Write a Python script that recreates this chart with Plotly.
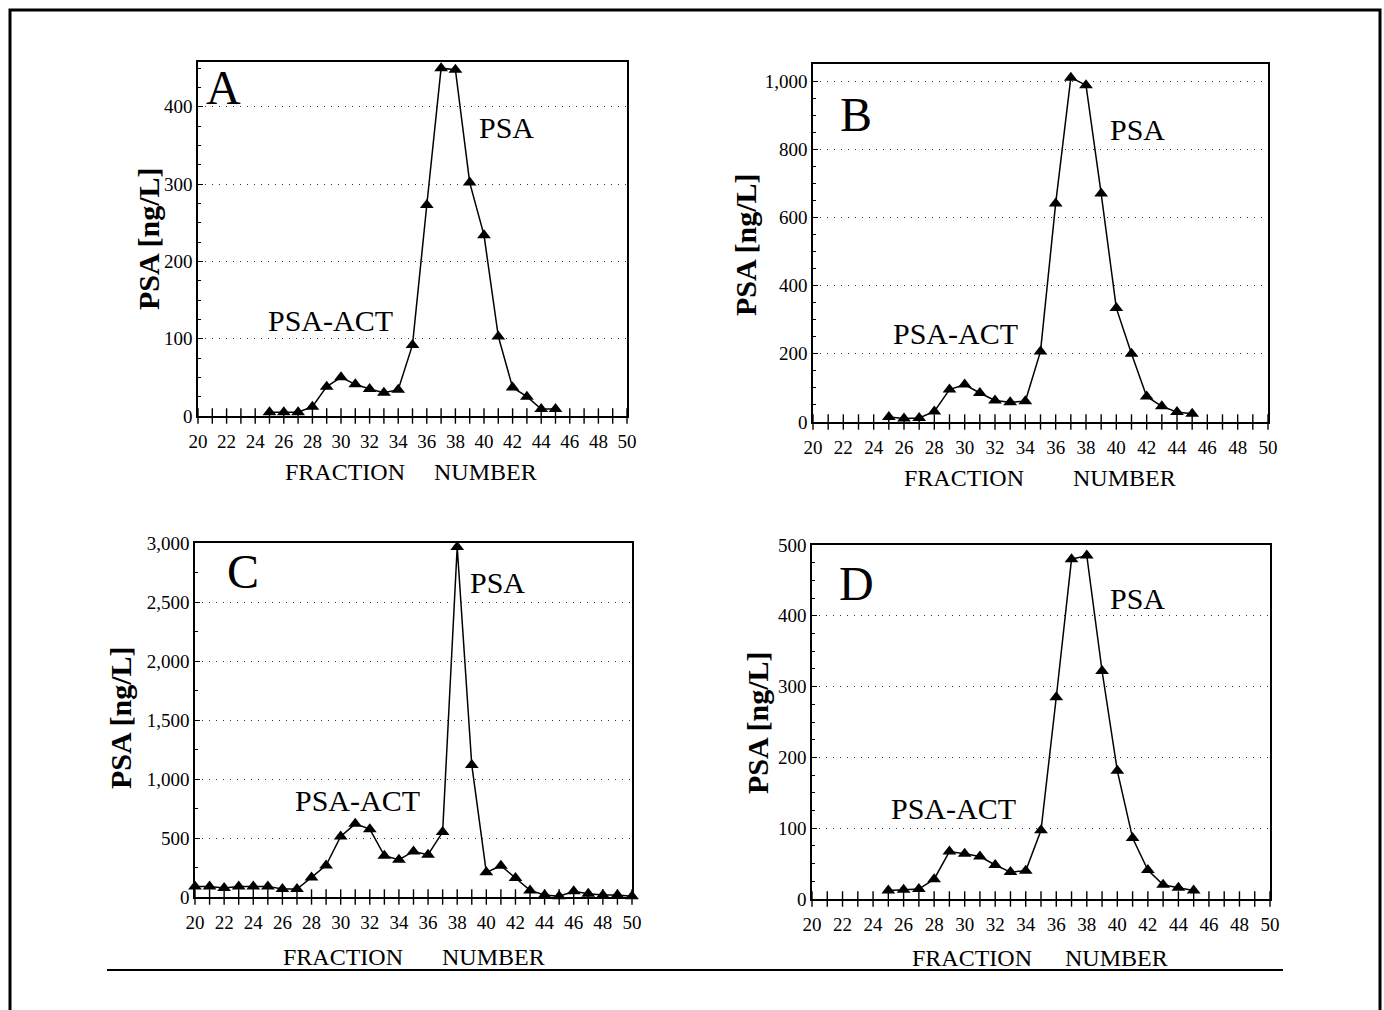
import plotly.graph_objects as go

# ---------------- data ----------------
fractions_A = list(range(25, 46))
psa_A = [5, 5, 5, 12, 38, 50, 41, 35, 30, 34, 92, 273, 450, 448, 302, 234, 103, 37, 25, 9, 9]

fractions_B = list(range(25, 46))
psa_B = [15, 10, 12, 31, 95, 110, 85, 63, 58, 61, 207, 641, 1010, 988, 670, 334, 200, 75, 46, 29, 24]

fractions_C = list(range(20, 51))
psa_C = [90, 90, 76, 90, 90, 90, 68, 68, 166, 268, 513, 620, 575, 350, 316, 386, 358, 550,
         2966, 1119, 209, 265, 161, 56, 17, 6, 48, 28, 17, 17, 6]

fractions_D = list(range(25, 46))
psa_D = [12, 13, 14, 28, 67, 64, 60, 48, 38, 40, 97, 285, 480, 485, 322, 181, 86, 41, 20, 16, 12]

x_tick_labels = list(range(20, 51, 2))
x_tick_marks = list(range(20, 51))
panel_letters = ["A", "B", "C", "D"]

W, H = 1384, 1010
FONT = "Liberation Serif"


def X(px):
    return px / W


def Y(py):
    return 1 - py / H


# panel boxes in pixels: (left, right, top, bottom), y max, major dtick, minor dtick
panels = [
    dict(x=fractions_A, y=psa_A, box=(198, 627, 62, 416), ymax=458, dt=100, mdt=25,
         letter=(223, 88), psa=(507, 127), act=(330, 320), ytitle=(148, 239),
         frac=(345, 472), num=(485, 472)),
    dict(x=fractions_B, y=psa_B, box=(813, 1268, 64, 422), ymax=1050, dt=200, mdt=50,
         letter=(856, 115), psa=(1137, 129), act=(955, 333), ytitle=(745, 245),
         frac=(964, 478), num=(1124, 478)),
    dict(x=fractions_C, y=psa_C, box=(195, 632, 543, 897), ymax=3000, dt=500, mdt=250,
         letter=(243, 571), psa=(497, 582), act=(357, 800), ytitle=(120, 718),
         frac=(343, 957), num=(493, 957)),
    dict(x=fractions_D, y=psa_D, box=(812, 1270, 545, 899), ymax=500, dt=100, mdt=25,
         letter=(856, 583), psa=(1137, 598), act=(953, 808), ytitle=(757, 722),
         frac=(972, 958), num=(1116, 958)),
]

fig = go.Figure()
annotations = []
layout_axes = {}

for i, p in enumerate(panels, start=1):
    xa = "x" if i == 1 else f"x{i}"
    ya = "y" if i == 1 else f"y{i}"
    xkey = "xaxis" if i == 1 else f"xaxis{i}"
    ykey = "yaxis" if i == 1 else f"yaxis{i}"
    l, r, t, b = p["box"]

    # data line with triangle markers
    fig.add_trace(go.Scatter(
        x=p["x"], y=p["y"], xaxis=xa, yaxis=ya, mode="lines+markers",
        line=dict(color="black", width=1.5),
        marker=dict(symbol="triangle-up", size=12, color="black"),
        cliponaxis=False, showlegend=False, hoverinfo="x+y"))

    # crossing tick marks on the fraction axis
    fig.add_trace(go.Scatter(
        x=x_tick_marks, y=[0] * len(x_tick_marks), xaxis=xa, yaxis=ya, mode="markers",
        marker=dict(symbol="line-ns", size=11, line=dict(color="black", width=1.4)),
        cliponaxis=False, showlegend=False, hoverinfo="skip"))

    layout_axes[xkey] = dict(
        domain=[X(l), X(r)], anchor=ya, range=[20, 50],
        showline=True, mirror=True, linecolor="black", linewidth=1.6,
        ticks="", tickmode="array", tickvals=x_tick_labels,
        ticktext=[str(v) for v in x_tick_labels],
        tickfont=dict(family=FONT, size=19, color="black"),
        ticklabelstandoff=7, showgrid=False, zeroline=False)

    layout_axes[ykey] = dict(
        domain=[Y(b), Y(t)], anchor=xa, range=[0, p["ymax"]],
        showline=True, mirror=True, linecolor="black", linewidth=1.6,
        ticks="inside", ticklen=5, tickcolor="black", dtick=p["dt"], tick0=0,
        tickformat=",d",
        tickfont=dict(family=FONT, size=19, color="black"),
        showgrid=True, gridcolor="#333333", gridwidth=1.2, griddash="1px,6px",
        zeroline=False,
        minor=dict(dtick=p["mdt"], ticks="inside", ticklen=3, tickcolor="black",
                   showgrid=False))

    def ann(pos, text, size, bold=False, angle=0):
        annotations.append(dict(
            x=X(pos[0]), y=Y(pos[1]), xref="paper", yref="paper", text=text,
            showarrow=False, xanchor="center", yanchor="middle", textangle=angle,
            font=dict(family=FONT, size=size, color="black",
                      weight="bold" if bold else "normal")))

    ann(p["letter"], panel_letters[i - 1], 48)
    ann(p["psa"], "PSA", 30)
    ann(p["act"], "PSA-ACT", 30)
    ann(p["ytitle"], "PSA [ng/L]", 30, bold=True, angle=-90)
    ann(p["frac"], "FRACTION", 24)
    ann(p["num"], "NUMBER", 24)

shapes = [
    dict(type="rect", xref="paper", yref="paper", x0=X(10), x1=X(1380), y0=Y(1030), y1=Y(10),
         line=dict(color="black", width=3)),
    dict(type="line", xref="paper", yref="paper", x0=X(107), x1=X(1283), y0=Y(970), y1=Y(970),
         line=dict(color="black", width=2)),
]

fig.update_layout(
    width=W, height=H, margin=dict(l=0, r=0, t=0, b=0, pad=0, autoexpand=False),
    autosize=False,
    paper_bgcolor="white", plot_bgcolor="white",
    font=dict(family=FONT, color="black"),
    annotations=annotations, shapes=shapes, showlegend=False,
    **layout_axes)

fig.write_html(
    "out.html",
    config={"responsive": False, "displayModeBar": False},
    post_script="document.body.style.margin='0';document.body.style.overflow='hidden';",
)
